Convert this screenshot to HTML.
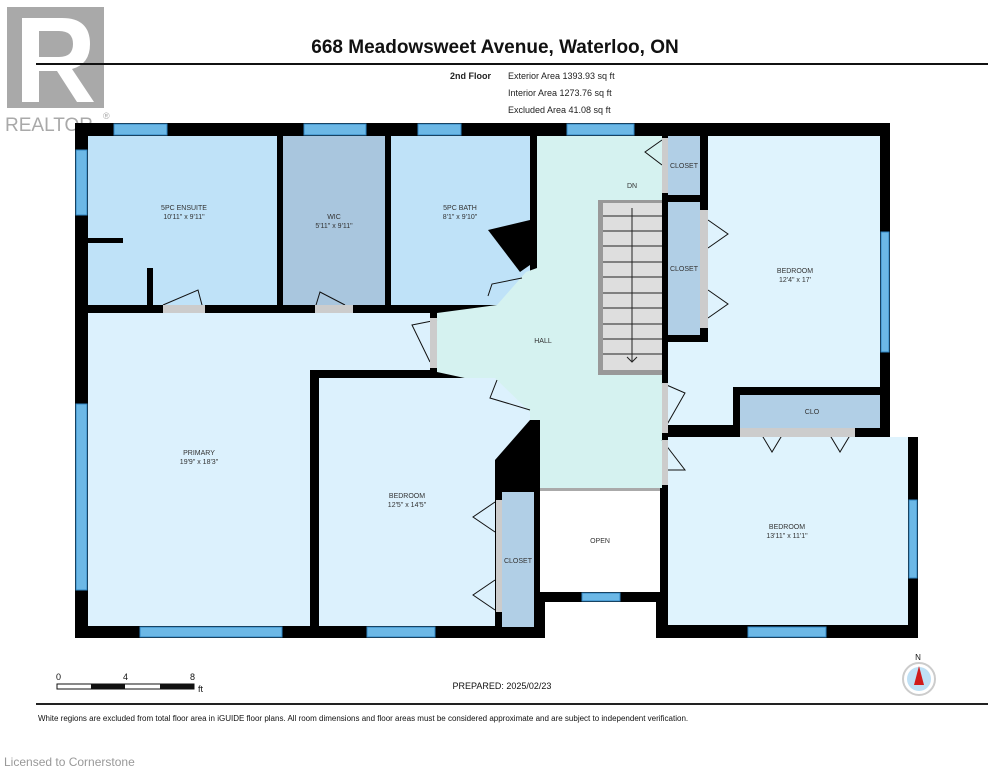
<!DOCTYPE html>
<html><head><meta charset="utf-8"><style>
html,body{margin:0;padding:0;background:#fff;width:995px;height:768px;overflow:hidden}
svg{display:block}
text{font-family:"Liberation Sans",Arial,sans-serif}
</style></head><body>
<svg width="995" height="768" viewBox="0 0 995 768" xmlns="http://www.w3.org/2000/svg">
<!-- realtor logo -->
<rect x="7" y="7" width="97" height="101" fill="#a9a9a9"/>
<path d="M22,18 h40 q28,0 28,26 q0,20 -18,25 l22,33 h-17 l-20,-31 h-18 v31 h-17 z M39,31 v26 h20 q14,0 14,-13 q0,-13 -14,-13 z" fill="#fff"/>
<text x="5" y="131" font-size="19" fill="#a9a9a9">REALTOR</text>
<text x="103" y="119" font-size="9" fill="#a9a9a9">®</text>
<text x="495" y="53" font-size="19" font-weight="bold" text-anchor="middle" fill="#111">668 Meadowsweet Avenue, Waterloo, ON</text>
<rect x="36" y="63" width="952" height="2" fill="#111"/>
<text x="491" y="79" font-size="9" font-weight="bold" text-anchor="end" fill="#222">2nd Floor</text>
<text x="508" y="79" font-size="9" fill="#222">Exterior Area 1393.93 sq ft</text>
<text x="508" y="96" font-size="9" fill="#222">Interior Area 1273.76 sq ft</text>
<text x="508" y="113" font-size="9" fill="#222">Excluded Area 41.08 sq ft</text>

<!-- walls base -->
<polygon points="75,123 890,123 890,437 918,437 918,638 656,638 656,602 545,602 545,638 75,638" fill="#000"/>
<!-- open area -->
<rect x="540" y="490" width="120" height="102" fill="#fff"/>
<rect x="540" y="488" width="120" height="3" fill="#aaa"/>
<!-- rooms -->
<rect x="88" y="136" width="189" height="169" fill="#bfe2f8"/>
<rect x="88" y="238" width="35" height="5" fill="#000"/>
<rect x="147" y="268" width="6" height="37" fill="#000"/>
<rect x="283" y="136" width="102" height="169" fill="#a9c6de"/>
<rect x="391" y="136" width="139" height="169" fill="#bfe2f8"/>
<polygon points="537,136 662,136 662,488 540,488 540,420 530,420 497,385 437,372 437,313 497,305 526,272 537,268" fill="#d5f2f0"/>
<polygon points="488,230 530,220 530,265 520,272" fill="#000"/>
<rect x="668" y="136" width="32" height="59" fill="#b1cfe6"/>
<rect x="668" y="202" width="32" height="133" fill="#b1cfe6"/>
<polygon points="708,136 880,136 880,387 733,387 733,425 668,425 668,342 708,342" fill="#dff3fd"/>
<rect x="740" y="395" width="140" height="33" fill="#b1cfe6"/>
<rect x="668" y="437" width="240" height="188" fill="#dff3fd"/>
<polygon points="88,313 430,313 430,370 310,370 310,626 88,626" fill="#dcf1fd"/>
<rect x="319" y="378" width="176" height="248" fill="#dcf1fd"/>
<polygon points="495,378 530,412 530,420 495,460" fill="#dcf1fd"/>
<polygon points="532,420 540,420 540,492 495,492 495,462" fill="#000"/>
<rect x="502" y="492" width="32" height="135" fill="#b1cfe6"/>
<!-- stairs -->
<rect x="598" y="200" width="64" height="175" fill="#999"/>
<rect x="603" y="203" width="59" height="167" fill="#dedede"/>
<g stroke="#222" stroke-width="1">
<line x1="603" y1="216" x2="662" y2="216"/><line x1="603" y1="231" x2="662" y2="231"/><line x1="603" y1="246" x2="662" y2="246"/><line x1="603" y1="262" x2="662" y2="262"/><line x1="603" y1="277" x2="662" y2="277"/><line x1="603" y1="293" x2="662" y2="293"/><line x1="603" y1="308" x2="662" y2="308"/><line x1="603" y1="324" x2="662" y2="324"/><line x1="603" y1="339" x2="662" y2="339"/><line x1="603" y1="354" x2="662" y2="354"/>
<line x1="632" y1="208" x2="632" y2="362"/><polyline points="627,357 632,362 637,357" fill="none"/>
</g>
<rect x="662" y="195" width="6" height="185" fill="#000"/>
<!-- windows -->
<g fill="#6cb8e6" stroke="#2f86c4" stroke-width="1">
<rect x="114" y="124" width="53" height="11"/><rect x="304" y="124" width="62" height="11"/><rect x="418" y="124" width="43" height="11"/><rect x="567" y="124" width="67" height="11"/>
<rect x="76" y="150" width="11" height="65"/><rect x="76" y="404" width="11" height="186"/>
<rect x="140" y="627" width="142" height="10"/><rect x="367" y="627" width="68" height="10"/><rect x="748" y="627" width="78" height="10"/><rect x="582" y="593" width="38" height="8"/>
<rect x="881" y="232" width="8" height="120"/><rect x="909" y="500" width="8" height="78"/>
</g>
<!-- door swings -->
<g fill="none" stroke="#111" stroke-width="1">
<polyline points="662,140 645,152 662,165"/><polyline points="708,220 728,234 708,248"/><polyline points="708,290 728,304 708,318"/>
<polyline points="662,383 685,393 665,428"/><polyline points="662,440 685,470 662,470"/>
<polyline points="760,432 772,452 784,432"/><polyline points="828,432 840,452 852,432"/>
<polyline points="495,502 473,517 495,532"/><polyline points="495,580 473,595 495,610"/>
<polyline points="163,305 198,290 202,305"/><polyline points="316,305 320,292 345,305"/>
<polyline points="437,320 412,325 430,362"/><polyline points="497,380 490,398 530,410"/>
<polyline points="522,278 492,284 488,296"/>
</g>
<g fill="#ccc"><rect x="163" y="305" width="42" height="8"/><rect x="315" y="305" width="38" height="8"/><rect x="430" y="318" width="7" height="50"/><rect x="740" y="428" width="115" height="9"/><rect x="496" y="500" width="6" height="112"/><rect x="700" y="210" width="8" height="118"/><rect x="662" y="138" width="6" height="55"/><rect x="662" y="383" width="6" height="50"/><rect x="662" y="440" width="6" height="45"/></g>
<!-- labels -->
<g font-size="7" fill="#333" text-anchor="middle">
<text x="184" y="210">5PC ENSUITE</text><text x="184" y="219">10'11" x 9'11"</text>
<text x="334" y="219">WIC</text><text x="334" y="228">5'11" x 9'11"</text>
<text x="460" y="210">5PC BATH</text><text x="460" y="219">8'1" x 9'10"</text>
<text x="632" y="188">DN</text>
<text x="543" y="343">HALL</text>
<text x="684" y="168">CLOSET</text><text x="684" y="271">CLOSET</text>
<text x="795" y="273">BEDROOM</text><text x="795" y="282">12'4" x 17'</text>
<text x="812" y="414">CLO</text>
<text x="199" y="455">PRIMARY</text><text x="199" y="464">19'9" x 18'3"</text>
<text x="407" y="498">BEDROOM</text><text x="407" y="507">12'5" x 14'5"</text>
<text x="518" y="563">CLOSET</text>
<text x="600" y="543">OPEN</text>
<text x="787" y="529">BEDROOM</text><text x="787" y="538">13'11" x 11'1"</text>
</g>
<!-- scale bar -->
<g font-size="9" fill="#111"><text x="56" y="680">0</text><text x="123" y="680">4</text><text x="190" y="680">8</text><text x="198" y="692">ft</text></g>
<rect x="57" y="684" width="137" height="5" fill="#fff" stroke="#111" stroke-width="1"/>
<rect x="91" y="684" width="34" height="5" fill="#111"/><rect x="160" y="684" width="34" height="5" fill="#111"/>
<text x="502" y="689" font-size="9" text-anchor="middle" fill="#111">PREPARED: 2025/02/23</text>
<text x="918" y="660" font-size="8" text-anchor="middle" fill="#111">N</text>
<circle cx="919" cy="679" r="16" fill="#fff" stroke="#ccc" stroke-width="2"/>
<circle cx="919" cy="679" r="12" fill="#bfe0f5"/>
<polygon points="919,666 914,685 924,685" fill="#d01b1b"/>
<rect x="36" y="703" width="952" height="2" fill="#222"/>
<text x="38" y="721" font-size="8" fill="#111">White regions are excluded from total floor area in iGUIDE floor plans. All room dimensions and floor areas must be considered approximate and are subject to independent verification.</text>
<text x="4" y="766" font-size="12" fill="#999">Licensed to Cornerstone</text>
</svg>
</body></html>
